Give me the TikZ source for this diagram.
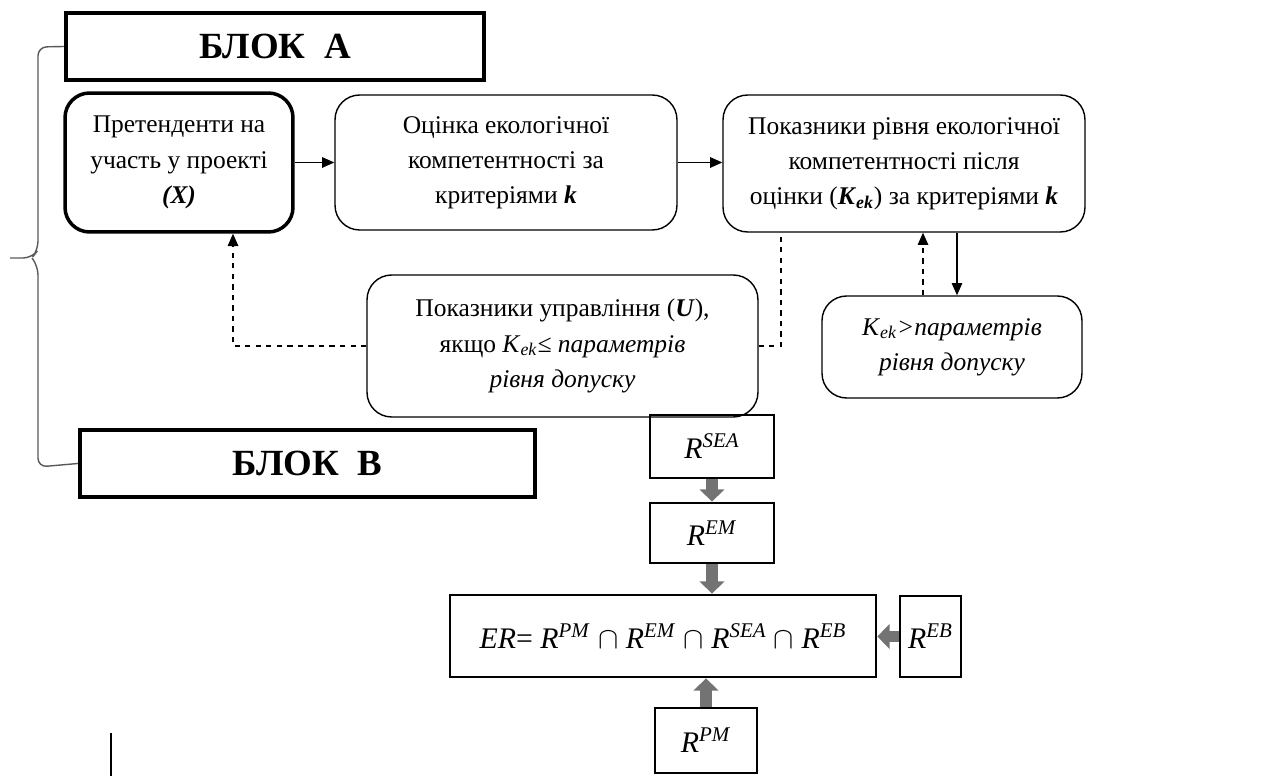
\documentclass[tikz,border=0pt]{standalone}
\usepackage{fontspec}
\setmainfont{Liberation Serif}
\usetikzlibrary{arrows.meta,calc}

\newcommand{\rsup}[1]{\textit{R}\textsuperscript{\textit{#1}}}
\newcommand{\kek}{\textit{K}\textsubscript{\textit{ek}}}

\tikzset{
  txt/.style={font=\fontsize{14.5}{20}\selectfont, align=center, inner sep=2pt},
  blockbox/.style={draw, line width=2.4pt, font=\fontsize{21}{24}\selectfont\bfseries},
  roundbox/.style={txt, draw, rounded corners=14pt, line width=0.8pt},
  mainbox/.style={roundbox, line width=2pt},
  rbox/.style={draw, line width=1.6pt, font=\fontsize{17}{20}\selectfont},
  flow/.style={-{Triangle[length=7pt,width=6pt]}, line width=0.8pt},
  fatarrow/.style={-{Triangle[length=7pt,width=14pt]}, line width=6.5pt, draw=black!55},
  brace/.style={draw=black!65, line width=0.8pt, rounded corners=5pt}
}

\begin{document}
\begin{tikzpicture}[x=0.02cm, y=-0.02cm]
  \useasboundingbox (0,0) rectangle (1276,776);

  % block titles
  \node[blockbox, minimum width=8.36cm, minimum height=1.34cm] (blockA) at (275,46.5) {БЛОК\ \ А};
  \node[blockbox, minimum width=9.1cm, minimum height=1.34cm] (blockB) at (307.5,463.5) {БЛОК\ \ В};

  % upper flow
  \node[mainbox, minimum width=4.56cm, minimum height=2.78cm] (cand) at (179,162.5)
    {Претенденти на\\ участь у проекті\\ \textbf{\textit{(X)}}};
  \node[roundbox, minimum width=6.84cm, minimum height=2.7cm] (assess) at (506,162.5)
    {Оцінка екологічної\\ компетентності за\\ критеріями \textbf{\textit{k}}};
  \node[roundbox, minimum width=7.24cm, minimum height=2.74cm] (level) at (904,163.5)
    {Показники рівня екологічної\\ компетентності після\\ оцінки (\textbf{\textit{K}}\textsubscript{\textbf{\textit{ek}}}) за критеріями \textbf{\textit{k}}};
  \node[roundbox, minimum width=7.82cm, minimum height=2.84cm] (ctrl) at (562.5,346)
    {Показники управління (\textbf{\textit{U}}),\\ якщо \kek\textit{≤ параметрів}\\ \textit{рівня допуску}};
  \node[roundbox, minimum width=5.2cm, minimum height=2.04cm] (pass) at (952,347)
    {\kek\textit{>параметрів}\\ \textit{рівня допуску}};

  \draw[flow] (cand) -- (cand -| assess.west);
  \draw[flow] (assess.east) -- (assess.east -| level.west);
  \draw[flow] ($(level.south)+(53,0)$) -- ($(pass.north)+(5,0)$);
  \draw[flow, dashed] ($(pass.north)+(-29,0)$) -- ($(level.south)+(19,0)$);
  \draw[dashed, line width=0.8pt] (ctrl.east) -| ($(level.south)+(-123,0)$);
  \draw[flow, dashed] (ctrl.west) -| ($(cand.south)+(54,0)$);

  % brace
  \draw[brace] (blockA.west) -- (38,47) -- (38,250) -- (32,258) -- (10,258);
  \draw[brace] (32,258) -- (38,266) -- (38,467) -- (blockB.west);

  % R components
  \node[rbox, minimum width=2.48cm, minimum height=1.26cm] (rsea) at (712,446.5) {\rsup{SEA}};
  \node[rbox, minimum width=2.48cm, minimum height=1.2cm] (rem) at (712,533) {\rsup{EM}};
  \node[rbox, minimum width=8.52cm, minimum height=1.64cm] (er) at (663,636)
    {\textit{ER}= \rsup{PM} $\cap$ \rsup{EM} $\cap$ \rsup{SEA} $\cap$ \rsup{EB}};
  \node[rbox, minimum width=1.22cm, minimum height=1.62cm] (reb) at (930.5,636.5) {\rsup{EB}};
  \node[rbox, minimum width=2.04cm, minimum height=1.3cm] (rpm) at (706,740.5) {\rsup{PM}};

  \draw[fatarrow] (rsea.south) -- (rem.north);
  \draw[fatarrow] (rem.south) -- (rem.south |- er.north);
  \draw[fatarrow] (rpm.north) -- (rpm.north |- er.south);
  \draw[fatarrow] (reb.west) -- (reb.west -| er.east);

  \draw[line width=1.5pt] (111,733) -- (111,776);
\end{tikzpicture}
\end{document}
